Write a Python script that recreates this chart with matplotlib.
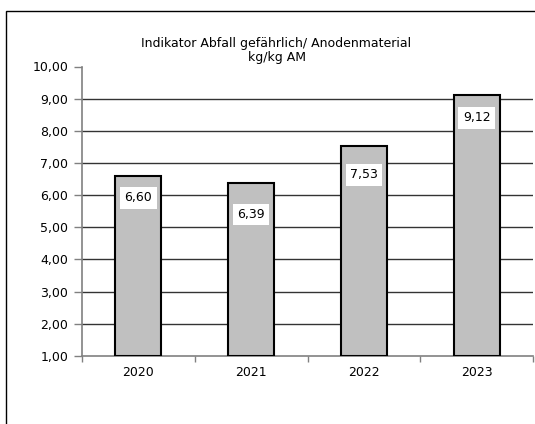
import matplotlib
matplotlib.use("Agg")
import matplotlib.pyplot as plt
from matplotlib.patches import Rectangle
from matplotlib.ticker import FixedLocator, FuncFormatter

years = ["2020", "2021", "2022", "2023"]
values = [6.60, 6.39, 7.53, 9.12]
y_ticks = [1, 2, 3, 4, 5, 6, 7, 8, 9, 10]
title_lines = ["Indikator Abfall gefährlich/ Anodenmaterial", "kg/kg AM"]

# how far (in pixels) each value box sits below the top of its bar
label_drop_px = [22, 32, 29, 23]

plt.rcParams["font.family"] = ["DejaVu Sans"]
W, H, DPI = 535, 424, 100
fig = plt.figure(figsize=(W / DPI, H / DPI), dpi=DPI, facecolor="white")

# outer chart-area frame (runs past the right and bottom edges)
fig.patches.append(Rectangle((6 / W, -0.05), 1.2, 1 - 11 / H + 0.05,
                             transform=fig.transFigure, fill=False,
                             edgecolor="black", linewidth=1.0))

ax = fig.add_axes([82 / W, 1 - 355.8 / H, (533 - 82) / W, (355.8 - 66.5) / H])
ax.set_facecolor("white")

x = list(range(len(years)))
base = 1.0
heights = [v - base for v in values]
ax.bar(x, heights, bottom=base, width=0.41, color="#c0c0c0",
       edgecolor="black", linewidth=1.5, zorder=3)

ax.set_xlim(-0.5, len(years) - 0.5)
ax.set_ylim(1, 10)

ax.yaxis.set_major_locator(FixedLocator(y_ticks))
ax.yaxis.set_major_formatter(FuncFormatter(lambda v, p: f"{v:.2f}".replace(".", ",")))
for t in y_ticks[1:-1]:
    ax.axhline(t, color="#333333", linewidth=1.0, zorder=1)

ax.xaxis.set_major_locator(FixedLocator([i - 0.5 for i in range(len(years) + 1)]))
ax.xaxis.set_major_formatter(FuncFormatter(lambda v, p: ""))
ax.xaxis.set_minor_locator(FixedLocator(x))
ax.set_xticklabels(years, minor=True)
ax.tick_params(axis="x", which="minor", length=0, pad=7, labelsize=9, colors="black")
ax.tick_params(axis="x", which="major", length=4.5, width=1.0, color="#808080", direction="out")
ax.tick_params(axis="y", length=5.5, width=1.0, color="#808080", pad=4.5, labelsize=9,
               labelcolor="black", direction="out")

for s in ["top", "right"]:
    ax.spines[s].set_visible(False)
for s in ["left", "bottom"]:
    ax.spines[s].set_color("#808080")
    ax.spines[s].set_linewidth(1.2)

for xi, v, drop in zip(x, values, label_drop_px):
    ax.annotate(f"{v:.2f}".replace(".", ","), xy=(xi, v),
                xytext=(0, -drop * 72 / DPI), textcoords="offset points",
                ha="center", va="center", fontsize=9, color="black", zorder=5,
                bbox=dict(boxstyle="square,pad=0.35", facecolor="white",
                          edgecolor="none"))

fig.text(276.5 / W, 1 - 37.5 / H, "\n".join(title_lines), ha="center", va="top",
         fontsize=9, linespacing=1.1, color="black")

fig.savefig("out.png", dpi=DPI, facecolor="white")
